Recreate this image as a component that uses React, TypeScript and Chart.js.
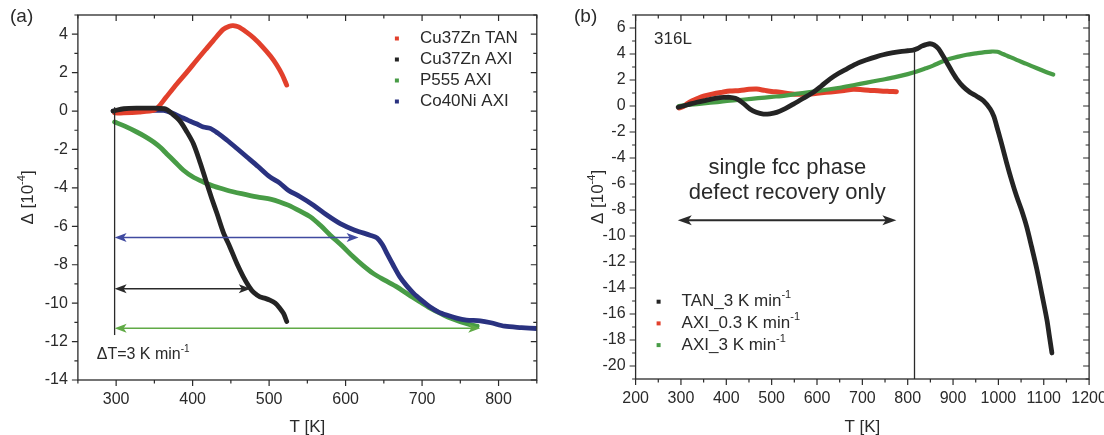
import React, { useEffect, useRef } from 'react';
import { Chart, registerables } from 'chart.js';

Chart.register(...registerables);

const FONT = '"Liberation Sans", Arial, Helvetica, sans-serif';
const INK = '#2a2a2a';
const RED = 'rgb(226,64,44)';
const BLACK = 'rgb(36,36,36)';
const GREEN = 'rgb(72,156,70)';
const BLUE = 'rgb(42,50,128)';
const BLUE_ARROW = 'rgb(64,74,160)';
const GREEN_ARROW = 'rgb(96,170,70)';

// ---------- Panel (a) data ----------
const aTanT = [298, 310, 330, 350, 355, 365, 379, 392, 405, 417, 427, 440, 448, 453, 460, 470, 480, 492, 502, 510, 517, 523];
const aTanD = [-0.1, -0.1, -0.05, 0.05, 0.2, 0.7, 1.4, 2.0, 2.63, 3.2, 3.67, 4.25, 4.42, 4.45, 4.38, 4.12, 3.8, 3.32, 2.85, 2.4, 1.9, 1.35];

const aCuAxiT = [296, 310, 330, 350, 365, 372, 383, 392, 401, 410, 418, 425, 432, 440, 449, 458, 466, 474, 480, 488, 495, 501, 508, 514, 519, 523];
const aCuAxiD = [0.0, 0.12, 0.15, 0.15, 0.1, -0.1, -0.5, -1.05, -1.7, -2.7, -3.7, -4.55, -5.35, -6.3, -7.1, -7.95, -8.6, -9.15, -9.45, -9.67, -9.75, -9.84, -10.0, -10.26, -10.55, -10.95];

const aP555T = [298, 312, 327, 338, 349, 358, 366, 377, 388, 400, 414, 428, 445, 464, 484, 503, 514, 525, 540, 554, 567, 580, 595, 610, 623, 636, 651, 667, 682, 697, 710, 724, 737, 750, 765, 772];
const aP555D = [-0.57, -0.8, -1.09, -1.33, -1.61, -1.9, -2.22, -2.65, -3.08, -3.42, -3.69, -3.92, -4.12, -4.3, -4.47, -4.6, -4.73, -4.9, -5.2, -5.51, -5.95, -6.46, -7.0, -7.59, -8.05, -8.45, -8.8, -9.15, -9.55, -9.93, -10.25, -10.53, -10.78, -10.97, -11.14, -11.2];

const aCoT = [296, 320, 345, 362, 373, 384, 395, 405, 414, 423, 433, 445, 458, 471, 486, 501, 514, 525, 540, 558, 575, 593, 612, 632, 641, 648, 654, 662, 671, 680, 689, 700, 710, 721, 732, 745, 758, 776, 790, 808, 830, 850];
const aCoD = [0.0, 0.02, 0.03, 0.03, -0.1, -0.3, -0.5, -0.66, -0.83, -0.9, -1.15, -1.52, -1.95, -2.39, -2.9, -3.43, -3.75, -4.12, -4.45, -4.9, -5.4, -5.86, -6.2, -6.46, -6.6, -6.95, -7.41, -8.0, -8.63, -9.1, -9.49, -9.87, -10.19, -10.45, -10.62, -10.78, -10.88, -10.92, -11.02, -11.2, -11.27, -11.32];

const aLabels = ['Cu37Zn TAN', 'Cu37Zn AXI', 'P555 AXI', 'Co40Ni AXI'];
const aXTicks = [300, 400, 500, 600, 700, 800];
const aYTicks = [-14, -12, -10, -8, -6, -4, -2, 0, 2, 4];

// ---------- Panel (b) data ----------
const bTanT = [294, 315, 335, 357, 379, 395, 408, 420, 430, 441, 452, 466, 482, 496, 511, 530, 548, 570, 592, 610, 629, 647, 666, 690, 710, 730, 746, 765, 783, 800, 812, 822, 831, 840, 849, 858, 868, 877, 886, 897, 908, 922, 937, 952, 967, 982, 990, 996, 1007, 1018, 1029, 1040, 1051, 1062, 1073, 1085, 1096, 1107, 1112, 1118];
const bTanD = [-0.1, 0.1, 0.29, 0.45, 0.6, 0.66, 0.67, 0.6, 0.41, 0.1, -0.23, -0.48, -0.62, -0.6, -0.49, -0.2, 0.15, 0.6, 1.06, 1.55, 2.09, 2.5, 2.86, 3.3, 3.55, 3.78, 3.94, 4.08, 4.19, 4.25, 4.3, 4.42, 4.6, 4.72, 4.79, 4.7, 4.4, 3.9, 3.37, 2.7, 2.09, 1.5, 1.06, 0.75, 0.41, -0.23, -0.8, -1.52, -2.9, -4.35, -5.7, -6.93, -8.0, -9.24, -10.8, -12.59, -14.5, -16.45, -17.6, -19.0];

const bAxi03T = [296, 305, 315, 325, 335, 350, 371, 390, 408, 430, 450, 467, 485, 500, 518, 540, 560, 580, 600, 620, 640, 660, 680, 700, 720, 740, 760, 775];
const bAxi03D = [-0.15, -0.05, 0.2, 0.4, 0.55, 0.75, 0.93, 1.05, 1.15, 1.2, 1.28, 1.3, 1.2, 1.12, 1.06, 0.95, 0.9, 0.92, 0.98, 1.05, 1.12, 1.2, 1.28, 1.25, 1.2, 1.15, 1.12, 1.1];

const bAxi3T = [295, 320, 350, 380, 408, 440, 470, 500, 530, 560, 592, 620, 650, 680, 710, 740, 770, 800, 820, 840, 856, 875, 893, 912, 930, 950, 970, 985, 998, 1010, 1020, 1040, 1062, 1085, 1105, 1121];
const bAxi3D = [0.0, 0.1, 0.2, 0.3, 0.41, 0.5, 0.6, 0.7, 0.8, 0.95, 1.1, 1.25, 1.4, 1.6, 1.8, 2.0, 2.2, 2.45, 2.65, 2.9, 3.11, 3.4, 3.63, 3.8, 3.94, 4.05, 4.15, 4.19, 4.17, 4.0, 3.85, 3.55, 3.24, 2.9, 2.62, 2.42];

const bLabels = ['TAN_3 K min⁻¹', 'AXI_0.3 K min⁻¹', 'AXI_3 K min⁻¹'];
const bXTicks = [200, 300, 400, 500, 600, 700, 800, 900, 1000, 1100, 1200];
const bYTicks = [-20, -18, -16, -14, -12, -10, -8, -6, -4, -2, 0, 2, 4, 6];

// ---------- annotations (data units) ----------
const aVLines = [{ x: 298, y1: 0.2, y2: -11.66 }];
const aArrows = [
  { y: -6.58, x1: 298, x2: 617, color: BLUE_ARROW },
  { y: -9.25, x1: 298, x2: 476, color: INK },
  { y: -11.31, x1: 298, x2: 776, color: GREEN_ARROW },
];
const aTexts = [{ text: 'ΔT=3 K min⁻¹', x: 274.6, y: -12.7, size: 16, align: 'left' }];

const bVLines = [{ x: 815, y1: 4.28, y2: -21 }];
const bArrows = [{ y: -8.78, x1: 293, x2: 775, color: INK }];
const bTexts = [
  { text: '316L', x: 240.6, y: 5.12, size: 17, align: 'left' },
  { text: 'single fcc phase', x: 534.5, y: -4.73, size: 22, align: 'center' },
  { text: 'defect recovery only', x: 534.5, y: -6.66, size: 22, align: 'center' },
];

const pts = (xs: number[], ys: number[]) => xs.map((x, i) => ({ x, y: ys[i] }));

const SUPMAP: Record<string, string> = { '⁻': '-', '¹': '1', '²': '2', '³': '3', '⁴': '4' };

function splitSup(s: string) {
  const out: { t: string; sup: boolean }[] = [];
  for (const ch of s) {
    const sup = ch in SUPMAP;
    const c = sup ? SUPMAP[ch] : ch;
    const last = out[out.length - 1];
    if (last && last.sup === sup) last.t += c;
    else out.push({ t: c, sup });
  }
  return out;
}

function drawRich(ctx: CanvasRenderingContext2D, text: string, x: number, y: number, size: number, align: string) {
  const segs = splitSup(text);
  const supSize = Math.round(size * 0.62);
  let total = 0;
  for (const s of segs) {
    ctx.font = `${s.sup ? supSize : size}px ${FONT}`;
    total += ctx.measureText(s.t).width;
  }
  let cx = align === 'center' ? x - total / 2 : x;
  ctx.textAlign = 'left';
  ctx.textBaseline = 'middle';
  for (const s of segs) {
    ctx.font = `${s.sup ? supSize : size}px ${FONT}`;
    ctx.fillText(s.t, cx, s.sup ? y - size * 0.38 : y);
    cx += ctx.measureText(s.t).width;
  }
}

function drawArrowHead(ctx: CanvasRenderingContext2D, tipX: number, y: number, dir: number, len: number, w: number) {
  ctx.beginPath();
  ctx.moveTo(tipX, y);
  ctx.lineTo(tipX + dir * len, y - w / 2);
  ctx.lineTo(tipX + dir * len * 0.75, y);
  ctx.lineTo(tipX + dir * len, y + w / 2);
  ctx.closePath();
  ctx.fill();
}

interface PanelSpec {
  tag: string;
  tagX: number;
  datasets: any[];
  xMin: number; xMax: number; yMin: number; yMax: number;
  xTicks: number[]; yTicks: number[]; xMinorStep: number; yMinorStep: number;
  yWidth: number; xHeight: number; padRight: number;
  yTitleX: number;
  legend: { dx: number; dy: number; step: number };
  vlines: any[]; arrows: any[]; texts: any[];
  arrowLW: number; headLen: number; headW: number;
}

function makeConfig(p: PanelSpec): any {
  const decor = {
    id: 'decor',
    afterDatasetsDraw(chart: any) {
      const ctx: CanvasRenderingContext2D = chart.ctx;
      const { left, right, top, bottom } = chart.chartArea;
      const xs = chart.scales.x;
      const ys = chart.scales.y;
      ctx.save();
      ctx.strokeStyle = INK;
      ctx.lineWidth = 1.3;
      for (const v of p.vlines) {
        const px = xs.getPixelForValue(v.x);
        ctx.beginPath();
        ctx.moveTo(px, ys.getPixelForValue(v.y1));
        ctx.lineTo(px, ys.getPixelForValue(v.y2));
        ctx.stroke();
      }
      for (const a of p.arrows) {
        const x1 = xs.getPixelForValue(a.x1);
        const x2 = xs.getPixelForValue(a.x2);
        const py = ys.getPixelForValue(a.y);
        ctx.strokeStyle = a.color;
        ctx.fillStyle = a.color;
        ctx.lineWidth = p.arrowLW;
        ctx.beginPath();
        ctx.moveTo(x1 + p.headLen * 0.6, py);
        ctx.lineTo(x2 - p.headLen * 0.6, py);
        ctx.stroke();
        drawArrowHead(ctx, x1, py, 1, p.headLen, p.headW);
        drawArrowHead(ctx, x2, py, -1, p.headLen, p.headW);
      }
      ctx.fillStyle = INK;
      for (const t of p.texts) {
        drawRich(ctx, t.text, xs.getPixelForValue(t.x), ys.getPixelForValue(t.y), t.size, t.align);
      }
      ctx.strokeStyle = INK;
      ctx.lineWidth = 1.3;
      ctx.strokeRect(left, top, right - left, bottom - top);
      const major = 6;
      const minor = 3.5;
      ctx.lineWidth = 1.2;
      ctx.beginPath();
      for (let v = p.xMin; v <= p.xMax + 1e-9; v += p.xMinorStep) {
        const isMajor = p.xTicks.some((t) => Math.abs(t - v) < 1e-6);
        const L = isMajor ? major : minor;
        const px = xs.getPixelForValue(v);
        ctx.moveTo(px, bottom); ctx.lineTo(px, bottom + L);
        ctx.moveTo(px, top); ctx.lineTo(px, top + L);
      }
      for (let v = p.yMin; v <= p.yMax + 1e-9; v += p.yMinorStep) {
        const isMajor = p.yTicks.some((t) => Math.abs(t - v) < 1e-6);
        const L = isMajor ? major : minor;
        const py = ys.getPixelForValue(v);
        ctx.moveTo(left, py); ctx.lineTo(left - L, py);
        ctx.moveTo(right, py); ctx.lineTo(right - L, py);
      }
      ctx.stroke();
      chart.data.datasets.forEach((ds: any, i: number) => {
        const tx = left + p.legend.dx;
        const ty = top + p.legend.dy + i * p.legend.step;
        ctx.fillStyle = ds.borderColor;
        ctx.fillRect(tx - 25, ty - 2, 4, 4);
        ctx.fillStyle = INK;
        drawRich(ctx, ds.label, tx, ty, 17, 'left');
      });
      ctx.save();
      ctx.translate(p.yTitleX, (top + bottom) / 2);
      ctx.rotate(-Math.PI / 2);
      ctx.fillStyle = INK;
      drawRich(ctx, 'Δ [10⁻⁴]', 0, 0, 17, 'center');
      ctx.restore();
      ctx.fillStyle = INK;
      drawRich(ctx, p.tag, p.tagX, 17, 19, 'left');
      ctx.restore();
    },
  };

  const fmt = (v: number) => String(v);

  return {
    type: 'line',
    data: { datasets: p.datasets },
    plugins: [decor],
    options: {
      animation: false,
      responsive: false,
      devicePixelRatio: 1,
      events: [],
      layout: { padding: { top: 15, right: p.padRight, left: 0, bottom: 0 }, autoPadding: false },
      plugins: { legend: { display: false }, tooltip: { enabled: false }, title: { display: false } },
      elements: { point: { radius: 0 }, line: { tension: 0.3, borderCapStyle: 'round', borderJoinStyle: 'round' } },
      scales: {
        x: {
          type: 'linear',
          min: p.xMin,
          max: p.xMax,
          grid: { display: false, drawTicks: false },
          border: { display: false },
          afterBuildTicks: (s: any) => { s.ticks = p.xTicks.map((v) => ({ value: v })); },
          afterFit: (s: any) => { s.height = p.xHeight; s.paddingLeft = 0; s.paddingRight = 0; },
          ticks: { color: INK, font: { family: FONT, size: 16 }, padding: 10, maxRotation: 0, autoSkip: false, callback: (v: number) => fmt(v) },
          title: { display: true, text: 'T [K]', color: INK, font: { family: FONT, size: 17 }, padding: { top: 0, bottom: -3 } },
        },
        y: {
          type: 'linear',
          min: p.yMin,
          max: p.yMax,
          grid: { display: false, drawTicks: false },
          border: { display: false },
          afterBuildTicks: (s: any) => { s.ticks = p.yTicks.map((v) => ({ value: v })); },
          afterFit: (s: any) => { s.width = p.yWidth; s.paddingTop = 0; s.paddingBottom = 0; },
          ticks: { color: INK, font: { family: FONT, size: 16 }, padding: 10, autoSkip: false, callback: (v: number) => fmt(v) },
        },
      },
    },
  };
}

const ds = (label: string, xs: number[], ys: number[], color: string, order: number, width = 4.8) => ({
  label,
  data: pts(xs, ys),
  borderColor: color,
  backgroundColor: color,
  borderWidth: width,
  pointRadius: 0,
  fill: false,
  order,
});

const specA: PanelSpec = {
  tag: '(a)',
  tagX: 10,
  datasets: [
    ds(aLabels[0], aTanT, aTanD, RED, 1),
    ds(aLabels[1], aCuAxiT, aCuAxiD, BLACK, 0),
    ds(aLabels[2], aP555T, aP555D, GREEN, 3),
    ds(aLabels[3], aCoT, aCoD, BLUE, 2),
  ],
  xMin: 250, xMax: 850, yMin: -14, yMax: 5,
  xTicks: aXTicks, yTicks: aYTicks, xMinorStep: 50, yMinorStep: 1,
  yWidth: 77.9, xHeight: 55, padRight: 15.2,
  yTitleX: 28.6,
  legend: { dx: 342, dy: 23.5, step: 21 },
  vlines: aVLines, arrows: aArrows, texts: aTexts,
  arrowLW: 1.5, headLen: 12, headW: 9,
};

const specB: PanelSpec = {
  tag: '(b)',
  tagX: 22,
  datasets: [
    ds(bLabels[0], bTanT, bTanD, BLACK, 0),
    ds(bLabels[1], bAxi03T, bAxi03D, RED, 2, 5),
    ds(bLabels[2], bAxi3T, bAxi3D, GREEN, 1, 4.2),
  ],
  xMin: 200, xMax: 1200, yMin: -21, yMax: 7,
  xTicks: bXTicks, yTicks: bYTicks, xMinorStep: 50, yMinorStep: 1,
  yWidth: 83.6, xHeight: 56, padRight: 14.9,
  yTitleX: 46,
  legend: { dx: 46, dy: 286.7, step: 21.7 },
  vlines: bVLines, arrows: bArrows, texts: bTexts,
  arrowLW: 2, headLen: 14, headW: 10,
};

function Panel({ spec, left }: { spec: PanelSpec; left: number }) {
  const ref = useRef<HTMLCanvasElement | null>(null);
  useEffect(() => {
    if (!ref.current) return;
    const chart = new Chart(ref.current, makeConfig(spec));
    return () => chart.destroy();
  }, [spec]);
  return (
    <canvas
      ref={ref}
      width={552}
      height={435}
      style={{ position: 'absolute', left, top: 0, width: 552, height: 435 }}
    />
  );
}

export default function App() {
  return (
    <div style={{ position: 'absolute', left: 0, top: 0, width: 1104, height: 435, background: '#fff', overflow: 'hidden' }}>
      <Panel spec={specA} left={0} />
      <Panel spec={specB} left={552} />
    </div>
  );
}
